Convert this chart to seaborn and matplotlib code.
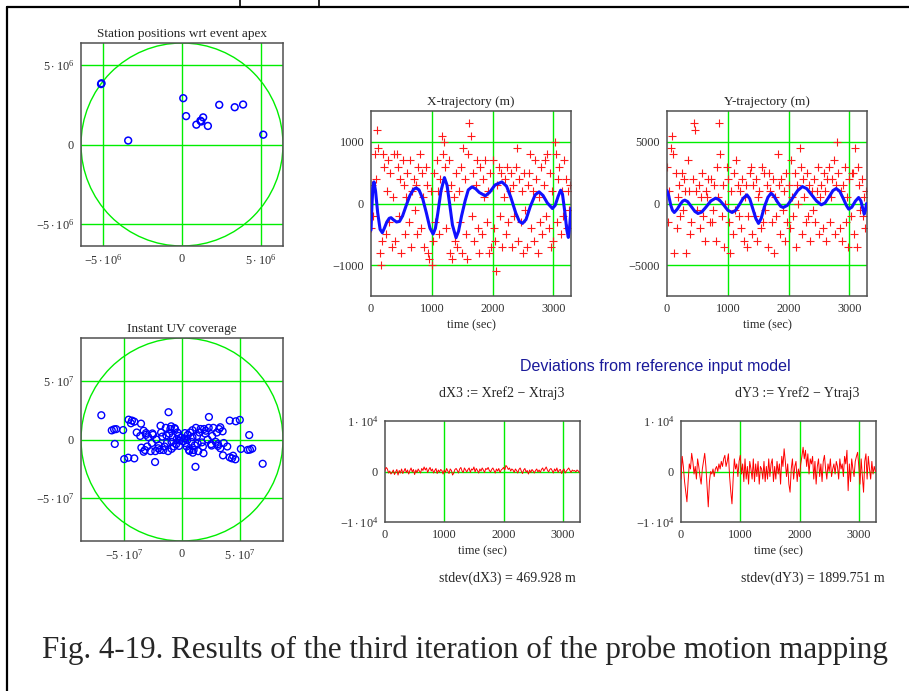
import numpy as np
import pandas as pd
import matplotlib
matplotlib.use("Agg")
import matplotlib.pyplot as plt
from matplotlib.patches import Circle
from matplotlib.lines import Line2D
import seaborn as sns

# ---------------- data ----------------
station_x = [-5.13e6, -5.10e6, -3.41e6, 0.08e6, 0.26e6, 0.91e6, 1.17e6, 1.22e6, 1.34e6, 1.64e6, 2.36e6, 3.34e6, 3.87e6, 5.15e6]
station_y = [3.81e6, 3.86e6, 0.25e6, 2.92e6, 1.79e6, 1.25e6, 1.50e6, 1.45e6, 1.71e6, 1.17e6, 2.50e6, 2.35e6, 2.52e6, 0.62e6]

# UV coverage points (units of 1e7)
uv_u = [-6.95, -5.85, -6.05, -5.67, -5.07, -5.79, -4.60, -4.31, -4.40, -4.11, -3.53, -4.98, -4.63, -4.11,
        -3.90, -3.60, -3.30, -3.10, -2.90, -3.50, -3.20, -3.00, -2.70, -3.30, -2.32, -1.85, -1.16,
        -2.50, -2.20, -2.00, -1.80, -1.60, -1.40, -1.30, -1.10, -0.90, -0.80, -0.60, -0.50, -0.30,
        -0.20, -0.10, -2.30, -1.90, -1.50, -1.20, -0.70, -2.60, -1.00, -0.40, -0.90, -0.93, -0.64,
        -3.10, -2.55, -1.70, -0.25, -0.45, -1.35, -2.05,
        6.95, 5.85, 6.05, 5.67, 5.07, 5.79, 4.60, 4.31, 4.40, 4.11, 3.53, 4.98, 4.63, 4.11,
        3.90, 3.60, 3.30, 3.10, 2.90, 3.50, 3.20, 3.00, 2.70, 3.30, 2.32, 1.85, 1.16,
        2.50, 2.20, 2.00, 1.80, 1.60, 1.40, 1.30, 1.10, 0.90, 0.80, 0.60, 0.50, 0.30,
        0.20, 0.10, 2.30, 1.90, 1.50, 1.20, 0.70, 2.60, 1.00, 0.40, 0.90, 0.93, 0.64,
        3.10, 2.55, 1.70, 0.25, 0.45, 1.35, 2.05]
uv_v = [2.08, 0.87, 0.78, 0.89, 0.81, -0.38, 1.70, 1.62, 1.39, 1.53, 1.36, -1.68, -1.56, -1.62,
        0.60, 0.30, 0.75, 0.55, 0.20, -0.70, -0.90, -0.60, -1.00, -1.05, -1.93, 1.18, 2.34,
        0.40, 0.00, -0.50, 0.60, -0.90, 1.00, -0.30, 0.50, -0.80, 0.20, 0.90, -0.40, 0.30,
        -0.10, 0.15, -1.00, -0.90, -0.60, -1.00, -0.60, -0.30, 0.90, 0.60, -0.20, 1.13, 0.98,
        0.40, 0.52, 0.25, -0.55, 0.05, 0.35, -0.75,
        -2.08, -0.87, -0.78, -0.89, -0.81, 0.38, -1.70, -1.62, -1.39, -1.53, -1.36, 1.68, 1.56, 1.62,
        -0.60, -0.30, -0.75, -0.55, -0.20, 0.70, 0.90, 0.60, 1.00, 1.05, 1.93, -1.18, -2.34,
        -0.40, 0.00, 0.50, -0.60, 0.90, -1.00, 0.30, -0.50, 0.80, -0.20, -0.90, 0.40, -0.30,
        0.10, -0.15, 1.00, 0.90, 0.60, 1.00, 0.60, 0.30, -0.90, -0.60, 0.20, -1.13, -0.98,
        -0.40, -0.52, -0.25, 0.55, -0.05, -0.35, 0.75]

# measured samples (every 20 s)
x_meas = [-400, 300, -200, 800, 400, 1200, 900, -800, -1000, -600,
          800, 600, -500, 200, 700, -300, 500, -700, 100, 800,
          -600, 800, 600, -200, 400, -800, 700, 300, -500, 100,
          500, -300, 700, -700, 200, 400, -100, 300, -500, 600,
          800, -400, 500, 100, -700, 600, 300, -800, -900, 200,
          -1000, -600, 500, -300, 700, 200, -500, 400, 1100, 800,
          1000, 600, -400, 200, 700, -800, 300, -900, 100, -600,
          500, -700, 200, -300, 600, -800, 900, 400, -500, -900,
          800, 1300, 1100, -200, 500, -600, 300, 700, -400, -800,
          600, -500, 400, 100, 700, -300, 200, -800, 500, -700,
          700, -400, -600, -1100, 300, 600, -200, 500, -700, 100,
          400, -500, 600, -300, 200, 500, -700, 300, -200, 600,
          900, -600, 400, -300, 200, -800, 500, -100, -700, 300,
          500, 800, -400, 200, -600, 700, 400, -800, 100, -300,
          600, -500, 300, 700, -200, 800, -400, 500, -700, 200,
          -600, 1000, 800, -300, 400, 600, -500, 200, -200, 700,
          400, -400, 200, -100, 300]
y_meas = [3000, -1500, 1000, 4500, 5500, 4000, -4000, 2500, -2000, 500,
          1500, -1000, 2500, -500, 2000, 1000, -4000, 3500, 1000, -2500,
          -1500, 2000, 6500, 6000, 1000, -500, 1500, -2000, 500, 2500,
          -1000, -3000, 1000, 500, 2000, -1500, 2000, -1500, -500, 1500,
          -3000, 3000, 500, 6500, 4000, -1000, 1500, -3500, 0, 3000,
          2000, -1500, -4000, 1000, -2500, 2500, -500, 3500, 1500, -1000,
          1000, -2000, 2000, -3000, 500, 1500, -3500, -1000, 2500, 3000,
          -2500, 1500, -1000, 2000, -3000, 500, 1000, -2000, 3000, -1500,
          2500, -500, 1500, -3500, 2500, 1000, -1500, 2000, -4000, 500,
          -1000, 4000, 1500, -2500, 2000, -500, 1000, -3000, 2500, -1500,
          1500, -2000, 3500, 500, -1000, 2500, -3500, 1500, 0, 4500,
          3000, -2500, 2000, 500, -1500, 2500, -1000, 1500, -3000, 1000,
          -500, 2000, -1500, 1000, 3000, -2500, 500, 1500, -2000, 2500,
          1000, -3000, 2000, 3000, -1500, 500, 2000, 3500, -2500, 1500,
          5000, 2500, -2000, 1000, -3000, 1500, 3000, -1500, 500, -3500,
          2000, -1000, 2500, 2500, -2500, 4500, -3500, 3000, 1500, -500,
          2000, -1000, 500, -2000, 1000]

# fitted trajectories (blue curves)
x_fit_t = [0, 15, 30, 49, 75, 110, 150, 186, 220, 260, 300, 330, 370, 420, 470, 520, 580, 640, 700, 743,
           790, 850, 910, 970, 1022, 1060, 1100, 1150, 1208, 1250, 1290, 1340, 1399, 1440, 1490, 1550,
           1600, 1661, 1720, 1780, 1880, 1950, 2040, 2153, 2230, 2300, 2380, 2440, 2492, 2550, 2620,
           2700, 2765, 2830, 2900, 2984, 3030, 3080, 3120, 3150, 3190, 3220, 3246, 3270, 3290]
x_fit_v = [-430, -50, 250, 350, 200, -150, -420, -474, -400, -300, -240, -230, -265, -300, -290, -200,
           -30, 130, 230, 253, 220, 80, -150, -400, -496, -400, -150, 200, 420, 300, 20, -350, -555,
           -450, -200, 50, 220, 270, 240, 180, 124, 180, 300, 350, 280, 100, -150, -290, -323, -260,
           -50, 140, 189, 130, 10, -81, -30, 120, 216, 150, -150, -420, -550, -350, -80]
y_fit_t = [0, 30, 60, 90, 120, 170, 220, 260, 293, 340, 400, 460, 511, 570, 640, 720, 799, 860, 930,
           1000, 1071, 1130, 1190, 1250, 1315, 1360, 1410, 1460, 1505, 1550, 1600, 1660, 1712, 1760,
           1820, 1870, 1913, 1980, 2060, 2150, 2228, 2300, 2380, 2460, 2538, 2600, 2660, 2730, 2783,
           2840, 2900, 2950, 2989, 3040, 3100, 3152, 3190, 3220, 3245, 3265, 3283]
y_fit_v = [1050, 600, -100, -550, -728, -450, -50, 200, 270, 150, -250, -650, -808, -700, -300, 200,
           431, 300, -100, -550, -728, -550, -100, 400, 700, 400, -400, -1200, -1617, -1200, -300, 500,
           835, 600, 100, -230, -323, -150, 400, 1050, 1374, 1200, 700, 200, -108, 50, 500, 1050, 1213,
           1000, 400, -150, -458, -300, 200, 485, 200, -400, -862, -500, 0]

# deviations (every 20 s)
dX3 = [200, 800, 500, -300, 100, -500, -200, 300, -600, -100,
       400, -700, 200, -300, 500, -400, 100, 600, -200, 300,
       -500, 200, 700, -100, 400, -600, 300, -200, 500, 100,
       -300, 600, 200, 900, 300, 700, -200, 400, 800, 100,
       500, -300, 200, 600, -400, 300, -100, 400, 200, -500,
       300, -200, 600, 100, -400, 500, 200, -700, -300, 400,
       600, 200, -300, 500, 800, 100, -200, 700, 300, -100,
       400, 700, -200, 500, 300, 900, -100, 600, 200, -300,
       500, 100, 700, 300, -200, 600, 400, 800, 200, -100,
       400, 700, 200, -300, 500, 100, 600, -200, 300, 500,
       800, 300, 1200, 900, 400, 700, 100, 500, 300, -200,
       500, 200, -300, 400, 700, 100, -400, 300, 600, -100,
       200, -500, 300, -200, 400, 100, -300, 200, 500, -100,
       300, -200, 400, 700, 100, 500, 900, 300, -100, 400,
       600, 200, -300, 500, 100, 700, -200, 300, 400, -400,
       200, 500, -300, 100, 400, 700, 200, -200, 300, 100,
       200, -100, 300, 100, -200]
dY3 = [-1500, 3000, 1000, -2000, -4000, -6000, -2000, 1500, 500, 3600,
       2000, -500, 1000, -1500, 2500, 1000, -1000, -2500, 500, 2000,
       3600, 1000, -3000, -7000, -2000, 0, -500, 500, -1000, 500,
       1000, 0, 1500, 500, 2000, 1000, 2500, 3200, 1000, 2000,
       3500, -1000, -4000, -6400, -1500, 2500, 500, 1500, -1000, 2000,
       3200, -500, 1500, -2000, 2500, -1500, 1000, -2500, 2000, 500,
       -1500, 2500, -2000, 1500, -1000, 2000, -2500, 1000, 500, -1500,
       2000, -2000, 1000, -1500, 2500, -1000, 1500, 2500, -2000, 1000,
       -1500, 2000, -500, 1500, -2500, 3000, 1000, 4500, 2000, -1000,
       1500, -2500, -4100, 500, 2500, -1500, 1000, 2000, -2000, 500,
       -1000, 1500, 3000, 4800, 2500, 4200, 1000, 3500, -500, 2500,
       1500, 3000, -1500, 2000, -2500, 1000, 2500, -1000, 1500, -2000,
       2000, 3200, 500, -1500, 1500, 0, 2500, -1000, 500, 1500,
       -500, 2000, 1000, -1500, 2500, 500, 1500, -1000, 3000, 1500,
       4200, -3800, 1500, -2000, 2500, 500, -1000, 2000, 3000, 3800,
       1000, -2500, 2500, -1000, -4100, 2000, 3500, -1500, 3000, 500,
       -1500, 2000, -500, 1000, 0]

sample_t = list(range(0, 3300, 20))

# ---------------- styling ----------------
sns.set_theme(style="white")
plt.rcParams["font.family"] = ["Liberation Serif", "DejaVu Serif"]
plt.rcParams["mathtext.fontset"] = "custom"
plt.rcParams["mathtext.rm"] = "Liberation Serif"
plt.rcParams["mathtext.it"] = "Liberation Serif:italic"
plt.rcParams["axes.unicode_minus"] = True

W, H = 909, 691
fig = plt.figure(figsize=(W / 100, H / 100), dpi=100)
fig.patch.set_facecolor("white")

GREEN = "#00ee00"
TICK_FS = 8.8
TITLE_FS = 9.5


def add_ax(l, t, r, b):
    ax = fig.add_axes([l / W, 1 - b / H, (r - l) / W, (b - t) / H])
    ax.set_facecolor("white")
    for s in ax.spines.values():
        s.set_color("#505050")
        s.set_linewidth(1.1)
    ax.tick_params(length=0, labelsize=TICK_FS, colors="#303030", pad=5)
    return ax


def grid(ax, xs, ys):
    for x in xs:
        ax.axvline(x, color=GREEN, lw=1.0, zorder=0.5)
    for y in ys:
        ax.axhline(y, color=GREEN, lw=1.0, zorder=0.5)


# Station positions
ax1 = add_ax(81, 43, 283, 246)
L1 = 6.4e6
grid(ax1, [-5e6, 0, 5e6], [-5e6, 0, 5e6])
ax1.add_patch(Circle((0, 0), L1, fill=False, edgecolor=GREEN, lw=1.0, zorder=0.6))
sns.scatterplot(x=station_x, y=station_y, ax=ax1, marker="o", s=24, facecolor="none",
                edgecolor="blue", linewidth=1.1, zorder=3, legend=False)
ax1.set_xlim(-L1, L1)
ax1.set_ylim(-L1, L1)
lab6 = [r"$-5\cdot10^{6}$", "0", r"$5\cdot10^{6}$"]
ax1.set_xticks([-5e6, 0, 5e6], lab6)
ax1.set_yticks([-5e6, 0, 5e6], lab6)
ax1.set_title("Station positions wrt event apex", fontsize=TITLE_FS, pad=4)

# UV coverage
ax2 = add_ax(81, 338, 283, 541)
L2 = 8.7e7
grid(ax2, [-5e7, 0, 5e7], [-5e7, 0, 5e7])
ax2.add_patch(Circle((0, 0), L2, fill=False, edgecolor=GREEN, lw=1.0, zorder=0.6))
sns.scatterplot(x=np.array(uv_u) * 1e7, y=np.array(uv_v) * 1e7, ax=ax2, marker="o", s=24,
                facecolor="none", edgecolor="blue", linewidth=1.0, zorder=3, legend=False)
ax2.set_xlim(-L2, L2)
ax2.set_ylim(-L2, L2)
lab7 = [r"$-5\cdot10^{7}$", "0", r"$5\cdot10^{7}$"]
ax2.set_xticks([-5e7, 0, 5e7], lab7)
ax2.set_yticks([-5e7, 0, 5e7], lab7)
ax2.set_title("Instant UV coverage", fontsize=TITLE_FS, pad=4)

# X trajectory
ax3 = add_ax(371, 111, 571, 296)
grid(ax3, [1000, 2000, 3000], [-1000, 0, 1000])
sns.scatterplot(x=sample_t, y=x_meas, ax=ax3, marker="+", s=34, color="#ff1a1a", linewidth=0.8,
                zorder=2, legend=False)
sns.lineplot(x=x_fit_t, y=x_fit_v, ax=ax3, color="#1010ff", lw=2.2, sort=False, estimator=None,
             zorder=3)
ax3.set_xlim(0, 3290)
ax3.set_ylim(-1500, 1500)
ax3.set_xticks([0, 1000, 2000, 3000], ["0", "1000", "2000", "3000"])
ax3.set_yticks([-1000, 0, 1000], ["\u22121000", "0", "1000"])
ax3.set_title("X-trajectory (m)", fontsize=TITLE_FS, pad=4)
ax3.set_xlabel("time (sec)", fontsize=TICK_FS, labelpad=3)

# Y trajectory
ax4 = add_ax(667, 111, 867, 296)
grid(ax4, [1000, 2000, 3000], [-5000, 0, 5000])
sns.scatterplot(x=sample_t, y=y_meas, ax=ax4, marker="+", s=34, color="#ff1a1a", linewidth=0.8,
                zorder=2, legend=False)
sns.lineplot(x=y_fit_t, y=y_fit_v, ax=ax4, color="#1010ff", lw=2.2, sort=False, estimator=None,
             zorder=3)
ax4.set_xlim(0, 3290)
ax4.set_ylim(-7500, 7500)
ax4.set_xticks([0, 1000, 2000, 3000], ["0", "1000", "2000", "3000"])
ax4.set_yticks([-5000, 0, 5000], ["\u22125000", "0", "5000"])
ax4.set_title("Y-trajectory (m)", fontsize=TITLE_FS, pad=4)
ax4.set_xlabel("time (sec)", fontsize=TICK_FS, labelpad=3)

# Deviations
lab4 = [r"$-1\cdot10^{4}$", "0", r"$1\cdot10^{4}$"]
for (l, r), dev in [((385, 580), dX3), ((681, 876), dY3)]:
    ax = add_ax(l, 421, r, 522)
    grid(ax, [1000, 2000, 3000], [0])
    sns.lineplot(x=sample_t, y=dev, ax=ax, color="red", lw=0.7, estimator=None, zorder=3)
    ax.set_xlim(0, 3290)
    ax.set_ylim(-1e4, 1e4)
    ax.set_xticks([0, 1000, 2000, 3000], ["0", "1000", "2000", "3000"])
    ax.set_yticks([-1e4, 0, 1e4], lab4)
    ax.set_xlabel("time (sec)", fontsize=TICK_FS, labelpad=3)

# texts
fig.text(655 / W, 1 - 366 / H, "Deviations from reference input model", ha="center", va="center",
         fontsize=11.5, color="#1a1a9a", family=["Liberation Sans", "DejaVu Sans"])
fig.text(502 / W, 1 - 393 / H, "dX3 := Xref2 \u2212 Xtraj3", ha="center", va="center", fontsize=10)
fig.text(797 / W, 1 - 393 / H, "dY3 := Yref2 \u2212 Ytraj3", ha="center", va="center", fontsize=10)
fig.text(507 / W, 1 - 578 / H, "stdev(dX3) = 469.928 m", ha="center", va="center", fontsize=10)
fig.text(813 / W, 1 - 578 / H, "stdev(dY3) = 1899.751 m", ha="center", va="center", fontsize=10)
fig.text(464.5 / W, 1 - 658 / H, "Fig. 4-19. Results of the third iteration of the probe motion mapping",
         ha="center", va="baseline", fontsize=22.3)

# frame lines
fig.add_artist(Line2D([7 / W, 7 / W], [0, 1 - 7 / H], color="black", lw=1.6))
fig.add_artist(Line2D([7 / W, 1], [1 - 7 / H, 1 - 7 / H], color="black", lw=1.6))
fig.add_artist(Line2D([240 / W, 240 / W], [1 - 7 / H, 1], color="black", lw=1.2))
fig.add_artist(Line2D([319 / W, 319 / W], [1 - 7 / H, 1], color="black", lw=1.2))

fig.savefig("out.png", dpi=100, facecolor="white")
